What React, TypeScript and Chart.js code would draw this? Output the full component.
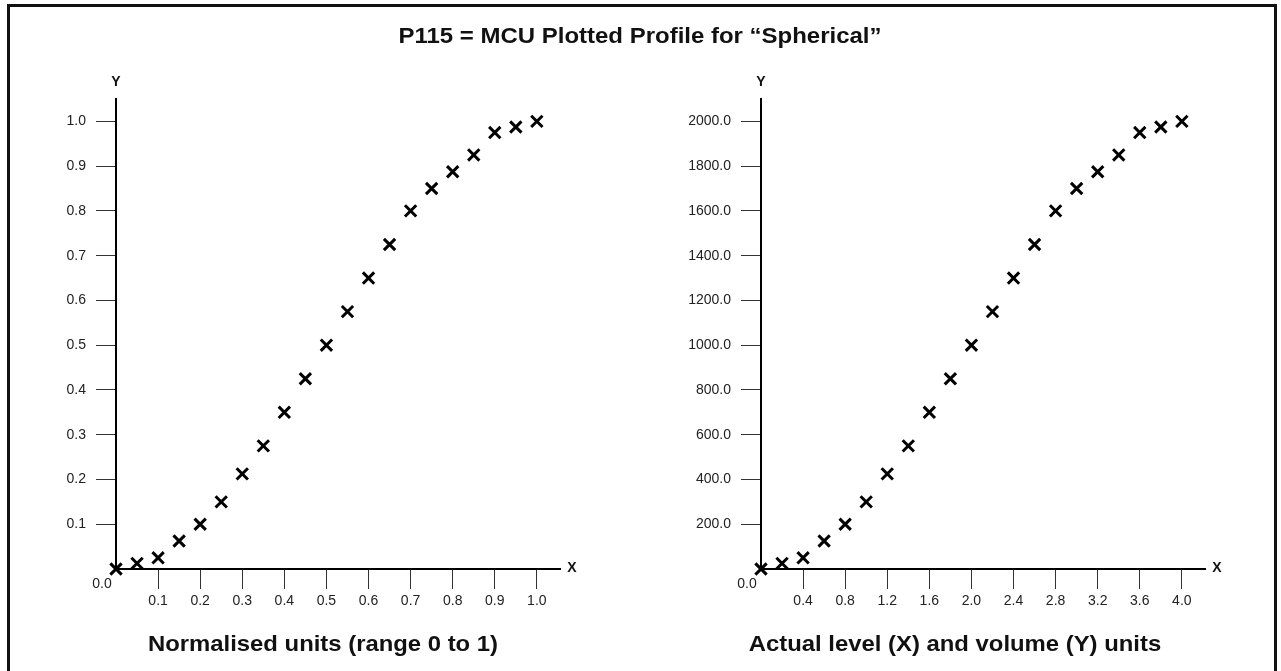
import React, { useEffect, useRef } from "react";
import { Chart, registerables } from "chart.js";

Chart.register(...registerables);

// ---------- data ----------
const normX = [0, 0.05, 0.1, 0.15, 0.2, 0.25, 0.3, 0.35, 0.4, 0.45, 0.5, 0.55, 0.6, 0.65, 0.7, 0.75, 0.8, 0.85, 0.9, 0.95, 1.0];
const normY = [0, 0.0125, 0.025, 0.0625, 0.1, 0.15, 0.2125, 0.275, 0.35, 0.425, 0.5, 0.575, 0.65, 0.725, 0.8, 0.85, 0.8875, 0.925, 0.975, 0.9875, 1.0];
const actualX = [0, 0.2, 0.4, 0.6, 0.8, 1.0, 1.2, 1.4, 1.6, 1.8, 2.0, 2.2, 2.4, 2.6, 2.8, 3.0, 3.2, 3.4, 3.6, 3.8, 4.0];
const actualY = [0, 25, 50, 125, 200, 300, 425, 550, 700, 850, 1000, 1150, 1300, 1450, 1600, 1700, 1775, 1850, 1950, 1975, 2000];

const normXTicks = [0.1, 0.2, 0.3, 0.4, 0.5, 0.6, 0.7, 0.8, 0.9, 1.0];
const normYTicks = [0.1, 0.2, 0.3, 0.4, 0.5, 0.6, 0.7, 0.8, 0.9, 1.0];
const actualXTicks = [0.4, 0.8, 1.2, 1.6, 2.0, 2.4, 2.8, 3.2, 3.6, 4.0];
const actualYTicks = [200, 400, 600, 800, 1000, 1200, 1400, 1600, 1800, 2000];

const titleText = "P115 = MCU Plotted Profile for \u201CSpherical\u201D";
const leftCaption = "Normalised units (range 0 to 1)";
const rightCaption = "Actual level (X) and volume (Y) units";

const FONT = "'Liberation Sans', Arial, Helvetica, sans-serif";
const H = 671;
const Y_AXIS_W = 80;

const axisLabels = {
  id: "axisLabels",
  afterDraw(chart: any) {
    const { ctx, chartArea } = chart;
    ctx.save();
    ctx.fillStyle = "#111";
    ctx.textAlign = "center";
    ctx.textBaseline = "middle";
    ctx.font = `bold 14px ${FONT}`;
    ctx.fillText("Y", chartArea.left, chartArea.top - 17);
    ctx.fillText("X", chartArea.right + 12, chartArea.bottom - 1);
    ctx.font = `14px ${FONT}`;
    ctx.fillStyle = "#222";
    ctx.fillText("0.0", chartArea.left - 14, chartArea.bottom + 15);
    ctx.restore();
  },
};

type PanelProps = {
  xs: number[];
  ys: number[];
  xTicks: number[];
  yTicks: number[];
  xMax: number;
  yMax: number;
  left: number;
  width: number;
  padLeft: number;
  padRight: number;
};

function Panel({ xs, ys, xTicks, yTicks, xMax, yMax, left, width, padLeft, padRight }: PanelProps) {
  const ref = useRef<HTMLCanvasElement | null>(null);
  useEffect(() => {
    if (!ref.current) return;
    const tickFont = { family: FONT, size: 14 };
    const chart = new Chart(ref.current, {
      type: "scatter",
      data: {
        datasets: [
          {
            data: xs.map((x, i) => ({ x, y: ys[i] })),
            pointStyle: "crossRot",
            pointRadius: 8,
            pointHoverRadius: 8,
            borderColor: "#000",
            backgroundColor: "#000",
            borderWidth: 3,
            pointBorderWidth: 3,
            clip: false,
          } as any,
        ],
      },
      options: {
        animation: false,
        responsive: false,
        maintainAspectRatio: false,
        events: [],
        layout: { padding: { left: padLeft, right: padRight, top: 99, bottom: 52 } },
        plugins: { legend: { display: false }, tooltip: { enabled: false }, title: { display: false } },
        scales: {
          x: {
            type: "linear",
            min: 0,
            max: xMax,
            afterBuildTicks: (s: any) => {
              s.ticks = xTicks.map((v) => ({ value: v }));
            },
            afterFit: (s: any) => {
              s.height = 50;
            },
            ticks: {
              autoSkip: false,
              maxRotation: 0,
              padding: 4,
              color: "#222",
              font: tickFont,
              callback: (v: any) => Number(v).toFixed(1),
            },
            grid: { display: true, drawOnChartArea: false, drawTicks: true, tickLength: 20, color: "#333", lineWidth: 1 },
            border: { display: true, color: "#000", width: 2 },
          },
          y: {
            type: "linear",
            min: 0,
            max: yMax,
            afterBuildTicks: (s: any) => {
              s.ticks = yTicks.map((v) => ({ value: v }));
            },
            afterFit: (s: any) => {
              s.width = Y_AXIS_W;
            },
            ticks: {
              autoSkip: false,
              padding: 10,
              color: "#222",
              font: tickFont,
              callback: (v: any) => Number(v).toFixed(1),
            },
            grid: { display: true, drawOnChartArea: false, drawTicks: true, tickLength: 20, color: "#333", lineWidth: 1 },
            border: { display: true, color: "#000", width: 2 },
          },
        },
      } as any,
      plugins: [axisLabels],
    });
    return () => chart.destroy();
  }, []);
  return (
    <canvas
      ref={ref}
      width={width}
      height={H}
      style={{ position: "absolute", left, top: 0, width, height: H, display: "block" }}
    />
  );
}

export default function App() {
  const textBase: React.CSSProperties = {
    position: "absolute",
    fontFamily: FONT,
    fontWeight: "bold",
    color: "#111",
    textAlign: "center",
    whiteSpace: "nowrap",
  };
  return (
    <div style={{ position: "absolute", left: 0, top: 0, width: 1281, height: H, overflow: "hidden", background: "#fff" }}>
      <div
        style={{
          position: "absolute",
          left: 7,
          top: 4,
          width: 1264,
          height: 700,
          border: "3px solid #111",
        }}
      />
      <Panel xs={normX} ys={normY} xTicks={normXTicks} yTicks={normYTicks} xMax={1.055} yMax={1.05} left={0} width={600} padLeft={116 - Y_AXIS_W} padRight={40} />
      <Panel xs={actualX} ys={actualY} xTicks={actualXTicks} yTicks={actualYTicks} xMax={4.22} yMax={2100} left={600} width={681} padLeft={161 - Y_AXIS_W} padRight={76} />
      <div style={{ ...textBase, left: 140, width: 1000, top: 25.4, fontSize: 22, lineHeight: "22px", transform: "scaleX(1.09)" }}>
        {titleText}
      </div>
      <div style={{ ...textBase, left: 23, width: 600, top: 633.8, fontSize: 21.5, lineHeight: "21.5px", transform: "scaleX(1.11)" }}>
        {leftCaption}
      </div>
      <div style={{ ...textBase, left: 655, width: 600, top: 633.8, fontSize: 21.5, lineHeight: "21.5px", transform: "scaleX(1.11)" }}>
        {rightCaption}
      </div>
    </div>
  );
}
